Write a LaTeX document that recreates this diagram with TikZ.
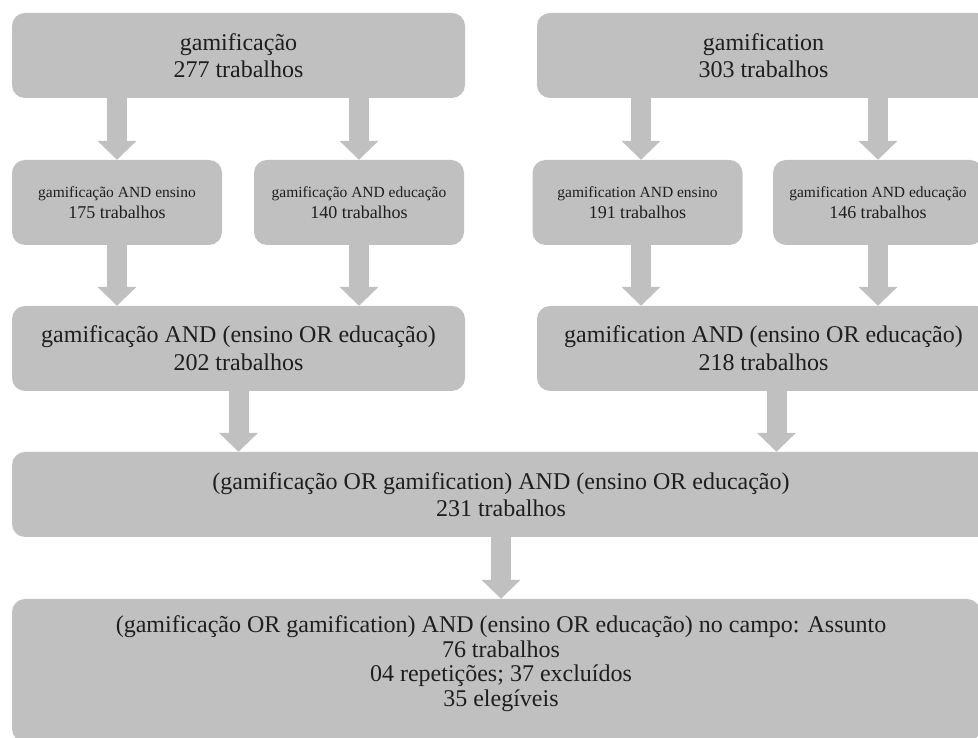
\documentclass[tikz,border=0pt]{standalone}
\usepackage{fontspec}
\setmainfont{Liberation Serif}
\usetikzlibrary{arrows.meta}
\definecolor{cinza}{RGB}{192,192,192}
\definecolor{texto}{RGB}{30,30,30}

\begin{document}
\begin{tikzpicture}[x=1pt,y=1pt,
caixa/.style ={rectangle, fill=cinza, text=texto,
  minimum width=453pt, minimum height=85pt, inner sep=0pt,
  align=center, rounded corners=13pt,
  font=\fontsize{24}{27}\selectfont
},
caixinha/.style ={caixa, minimum width=210pt,
  font=\fontsize{18}{21}\selectfont
},
seta/.style ={draw=cinza, line width=20pt,
  -{Triangle[width=38pt,length=19pt]}
}]
\clip (0,0) rectangle (978,738);
% primeira linha
\node (gpt) at (238.5,682.5) [caixa] {gamificação\\277 trabalhos};
\node (gen) at (763.5,682.5) [caixa] {gamification\\303 trabalhos};
% segunda linha
\node (gptens) at (117,535.5) [caixinha] {{\fontsize{15.5}{18}\selectfont gamificação AND ensino}\\175 trabalhos};
\node (gptedu) at (359,535.5) [caixinha] {{\fontsize{15.5}{18}\selectfont gamificação AND educação}\\140 trabalhos};
\node (genens) at (637.5,535.5) [caixinha] {{\fontsize{15.5}{18}\selectfont gamification AND ensino}\\191 trabalhos};
\node (genedu) at (878,535.5) [caixinha] {{\fontsize{15.5}{18}\selectfont gamification AND educação}\\146 trabalhos};
% terceira linha
\node (gptor) at (238.5,389.5) [caixa, font=\fontsize{24}{28}\selectfont] {gamificação AND (ensino OR educação)\\202 trabalhos};
\node (genor) at (763.5,389.5) [caixa, font=\fontsize{24}{28}\selectfont] {gamification AND (ensino OR educação)\\218 trabalhos};
% quarta e quinta linhas
\node (todos) at (501,243.5) [caixa, minimum width=978pt] {(gamificação OR gamification) AND (ensino OR educação)\\231 trabalhos};
\node (assunto) at (496,67.5) [caixa, minimum width=968pt, minimum height=143pt] {};
\node (assuntotxt) at ([xshift=5pt,yshift=7pt]assunto.center) [align=center, text=texto, font=\fontsize{24}{24.5}\selectfont]
  {(gamificação OR gamification) AND (ensino OR educação) no campo: Assunto\\76 trabalhos\\04 repetições; 37 excluídos\\35 elegíveis};

% setas
\draw[seta] (gptens.north |- gpt.south) -- (gptens.north);
\draw[seta] (gptedu.north |- gpt.south) -- (gptedu.north);
\draw[seta] ([xshift=3.5pt]genens.north |- gen.south) -- ([xshift=3.5pt]genens.north);
\draw[seta] (genedu.north |- gen.south) -- (genedu.north);
\draw[seta] (gptens.south) -- (gptens.south |- gptor.north);
\draw[seta] (gptedu.south) -- (gptedu.south |- gptor.north);
\draw[seta] ([xshift=3.5pt]genens.south) -- ([xshift=3.5pt]genens.south |- genor.north);
\draw[seta] (genedu.south) -- (genedu.south |- genor.north);
\draw[seta] (gptor.south) -- (gptor.south |- todos.north);
\draw[seta] ([xshift=13pt]genor.south) -- ([xshift=13pt]genor.south |- todos.north);
\draw[seta] (todos.south) -- (todos.south |- assunto.north);
\end{tikzpicture}
\end{document}
